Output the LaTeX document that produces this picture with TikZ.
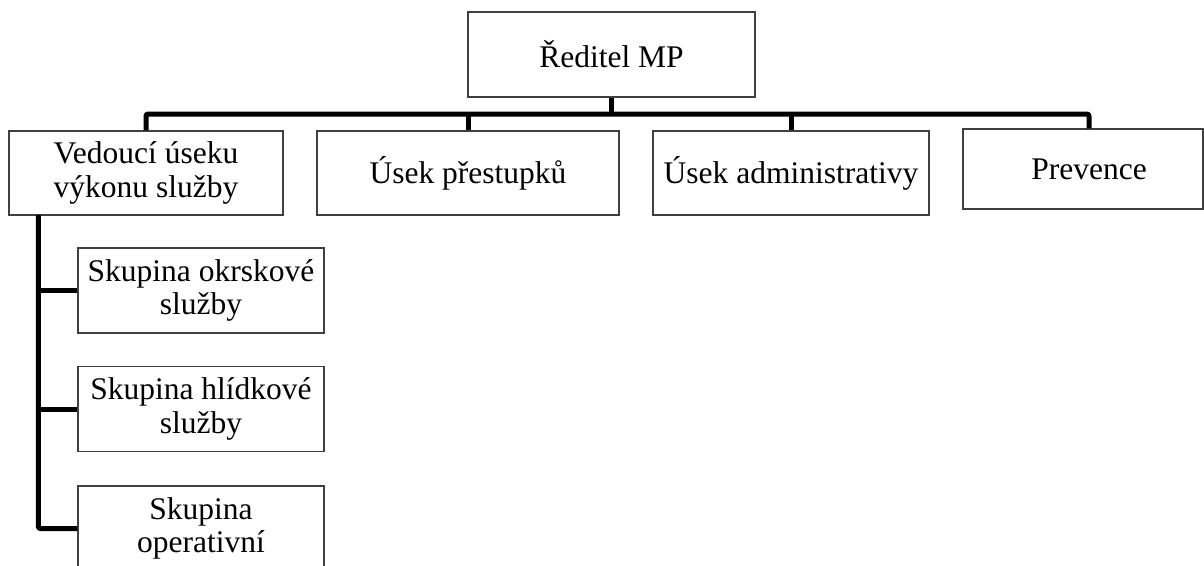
\documentclass[tikz,border=0pt]{standalone}
\usepackage{fontspec}
\setmainfont{Liberation Serif}
\begin{document}
\begin{tikzpicture}
      [
      x=1pt,y=-1pt,
      box/.style={draw=black!75,line width=1.2pt,rectangle,inner sep=2pt,minimum height=85,align=center,
        font=\fontsize{31.5}{33.5}\selectfont},
      conn/.style={line width=5pt,line join=round,rounded corners=2pt}
      ]
      \useasboundingbox (0,0) rectangle (1204,565);
      \node (dir) at (611.5,54.5) [box,minimum width=287] {Ředitel MP};
      \node (ved) at (146,173) [box,minimum width=274,minimum height=84] {Vedoucí úseku\\výkonu služby};
      \node (pre) at (468,173) [box,minimum width=302,minimum height=84] {Úsek přestupků};
      \node (adm) at (791,173) [box,minimum width=276,minimum height=84] {Úsek administrativy};
      \node (prev) at (1083,169) [box,minimum width=240,minimum height=80] {\hspace{12pt}Prevence};
      \node (s1) at (201,290.5) [box,minimum width=246] {Skupina okrskové\\služby};
      \node (s2) at (201,409) [box,minimum width=246] {Skupina hlídkové\\služby};
      \node (s3) at (201,528.5) [box,minimum width=246] {Skupina\\operativní};
      \coordinate (busL) at (146.7,114);
      \coordinate (busR) at (1089,114);
      \coordinate (spine) at (38.3,215);
      \draw [conn] (ved.north) |- (busR) -- (busR |- prev.north);
      \draw [conn] (dir.south) -- (dir.south |- busL);
      \draw [conn] (pre.north) -- (pre.north |- busL);
      \draw [conn] (adm.north) -- (adm.north |- busL);
      \draw [conn] (spine) |- (s3.west);
      \draw [conn] (s1.west -| spine) -- (s1.west);
      \draw [conn] (s2.west -| spine) -- (s2.west);
    \end{tikzpicture}
\end{document}
